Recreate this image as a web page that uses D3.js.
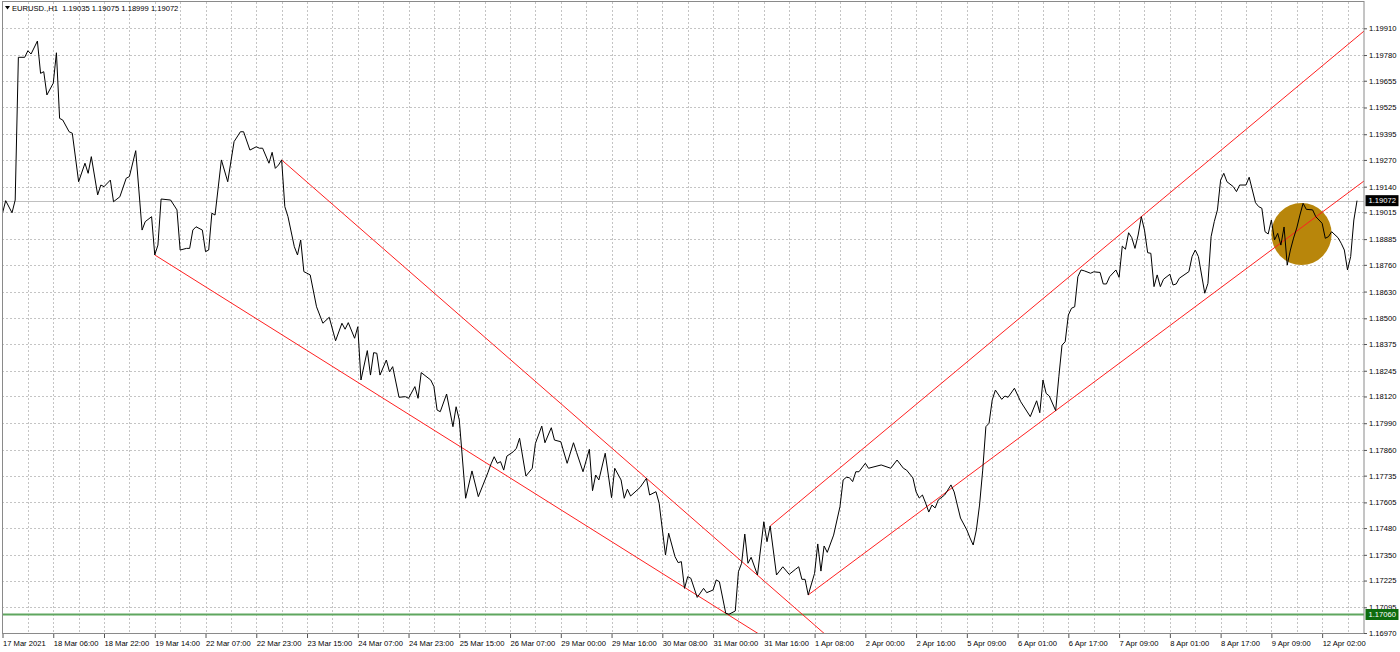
<!DOCTYPE html>
<html>
<head>
<meta charset="utf-8">
<script src="https://cdn.jsdelivr.net/npm/d3@7"></script>
<style>
  html, body { margin: 0; padding: 0; background: #fff; }
  svg { display: block; font-family: "Liberation Sans", Arial, sans-serif; }
</style>
</head>
<body>
<div id="chart"></div>
<script>
// hourly closes, bar index -> price
var barIdx = [0,1,3,4,5,7,8,9,11,12,13,14,16,17,18,19,21,22,24,26,27,28,30,31,32,34,35,37,39,40,42,44,45,47,48,49,50,53,55,56,58,59,60,61,63,64,65,66,67,69,71,73,75,76,78,80,81,82,84,85,86,87,88,89,90,92,93,94,95,97,99,101,103,105,107,108,109,111,112,113,115,116,117,118,119,121,122,123,125,127,128,130,131,132,135,136,137,138,140,142,143,144,146,148,150,153,154,155,156,157,158,159,161,162,163,165,167,168,170,171,173,174,176,178,180,181,183,185,186,187,188,190,192,193,195,196,197,198,201,203,204,206,207,209,210,212,213,214,215,216,217,219,221,222,224,225,226,228,229,231,232,233,234,235,236,238,240,241,242,244,246,248,250,251,252,253,254,256,257,258,259,260,262,264,265,266,267,268,269,270,272,273,277,280,282,284,285,287,288,289,290,291,292,293,294,295,297,298,299,300,301,302,304,305,306,307,308,309,310,311,312,313,315,316,317,319,321,324,326,327,328,329,330,332,333,334,335,336,337,338,339,340,341,343,344,346,347,348,349,351,352,353,354,355,356,357,358,359,360,361,362,363,364,365,366,368,369,370,371,374,375,376,377,379,380,381,382,383,384,385,386,388,389,390,392,393,395,396,397,398,399,400,401,402,403,404,405,406,407,408,409,410,411,413,414,415,416,417,418,419,421,422,423,424,425,426,427];
var closes = [1.19011,1.19072,1.19013,1.19075,1.19769,1.19769,1.19801,1.19785,1.19848,1.19691,1.19699,1.19586,1.19643,1.19791,1.19472,1.19464,1.19407,1.19400,1.19164,1.19254,1.19205,1.19286,1.19100,1.19148,1.19140,1.19172,1.19067,1.19091,1.19181,1.19189,1.19315,1.18929,1.18970,1.18994,1.18808,1.18856,1.19080,1.19075,1.19027,1.18832,1.18840,1.18840,1.18929,1.18945,1.18929,1.18824,1.18832,1.19011,1.19002,1.19270,1.19164,1.19359,1.19407,1.19407,1.19318,1.19334,1.19327,1.19327,1.19254,1.19307,1.19229,1.19245,1.19270,1.19043,1.18994,1.18848,1.18808,1.18881,1.18727,1.18711,1.18556,1.18476,1.18505,1.18391,1.18476,1.18447,1.18479,1.18403,1.18459,1.18200,1.18343,1.18224,1.18333,1.18330,1.18224,1.18297,1.18240,1.18265,1.18116,1.18119,1.18111,1.18168,1.18111,1.18236,1.18200,1.18168,1.18054,1.18046,1.18132,1.17973,1.18070,1.18006,1.17625,1.17758,1.17633,1.17749,1.17792,1.17827,1.17795,1.17803,1.17762,1.17830,1.17851,1.17868,1.17917,1.17733,1.17771,1.17892,1.17976,1.17895,1.17968,1.17908,1.17900,1.17795,1.17895,1.17847,1.17754,1.17863,1.17662,1.17738,1.17714,1.17844,1.17628,1.17771,1.17714,1.17625,1.17669,1.17636,1.17678,1.17722,1.17641,1.17657,1.17601,1.17349,1.17455,1.17341,1.17312,1.17317,1.17187,1.17244,1.17236,1.17143,1.17187,1.17166,1.17179,1.17228,1.17219,1.17066,1.17061,1.17077,1.17268,1.17309,1.17451,1.17309,1.17338,1.17252,1.17511,1.17414,1.17490,1.17252,1.17292,1.17255,1.17280,1.17292,1.17231,1.17231,1.17155,1.17260,1.17403,1.17271,1.17393,1.17362,1.17446,1.17584,1.17714,1.17727,1.17725,1.17706,1.17754,1.17754,1.17795,1.17771,1.17787,1.17771,1.17811,1.17771,1.17762,1.17724,1.17656,1.17626,1.17641,1.17602,1.17558,1.17592,1.17578,1.17617,1.17641,1.17665,1.17690,1.17656,1.17592,1.17529,1.17471,1.17432,1.17398,1.17471,1.17592,1.17762,1.17973,1.17990,1.18103,1.18151,1.18106,1.18122,1.18116,1.18160,1.18094,1.18022,1.18099,1.18041,1.18200,1.18135,1.18122,1.18051,1.18216,1.18370,1.18386,1.18516,1.18549,1.18556,1.18702,1.18735,1.18731,1.18719,1.18726,1.18723,1.18667,1.18667,1.18702,1.18735,1.18699,1.18851,1.18836,1.18916,1.18892,1.18840,1.18905,1.18994,1.18929,1.18819,1.18816,1.18654,1.18711,1.18654,1.18690,1.18714,1.18662,1.18667,1.18695,1.18727,1.18800,1.18832,1.18800,1.18622,1.18670,1.18897,1.18970,1.19027,1.19172,1.19205,1.19164,1.19140,1.19116,1.19148,1.19148,1.19186,1.19062,1.19043,1.19035,1.18921,1.18910,1.18978,1.18881,1.18913,1.18856,1.18944,1.18759,1.18832,1.18890,1.18939,1.19002,1.19059,1.19030,1.19027,1.18994,1.18978,1.18962,1.18889,1.18897,1.18921,1.18892,1.18865,1.18832,1.18735,1.18800,1.18978,1.19072];

var timeLabels = ["17 Mar 2021","18 Mar 06:00","18 Mar 22:00","19 Mar 14:00","22 Mar 07:00","22 Mar 23:00","23 Mar 15:00","24 Mar 07:00","24 Mar 23:00","25 Mar 15:00","26 Mar 07:00","29 Mar 00:00","29 Mar 16:00","30 Mar 08:00","31 Mar 00:00","31 Mar 16:00","1 Apr 08:00","2 Apr 00:00","2 Apr 16:00","5 Apr 09:00","6 Apr 01:00","6 Apr 17:00","7 Apr 09:00","8 Apr 01:00","8 Apr 17:00","9 Apr 09:00","12 Apr 02:00"];
var labelStep = 16;   // bars between time labels
var gridStep = 8;     // bars between vertical grid lines
var priceTicks = [1.19910,1.19780,1.19655,1.19525,1.19395,1.19270,1.19140,1.19015,1.18885,1.18760,1.18630,1.18500,1.18375,1.18245,1.18120,1.17990,1.17860,1.17735,1.17605,1.17480,1.17350,1.17225,1.17095,1.16970];

// trend lines: two anchor points [bar, price], drawn as rays to the right
var trendLines = [
  [[48, 1.18808], [228, 1.17066]],
  [[88, 1.19270], [203, 1.17722]],
  [[242, 1.17490], [359, 1.18994]],
  [[254, 1.17155], [332, 1.18051]]
];
var ellipseBars = [400, 419];
var ellipsePrices = [1.18759, 1.19061];
var bidPrice = 1.19072;
var levelPrice = 1.17060;
var title = "EURUSD.,H1  1.19035 1.19075 1.18999 1.19072";

var W = 1400, H = 652;
var plot = {left: 2, top: 2, right: 1364, bottom: 634};
var lastBar = 429.2;

var x = d3.scaleLinear().domain([0, lastBar]).range([2.5, plot.right]);
var y = d3.scaleLinear().domain([1.16970, 1.19910]).range([633, 28.3]);

var svg = d3.select("#chart").append("svg")
  .attr("width", W).attr("height", H);

svg.append("clipPath").attr("id", "clip")
  .append("rect")
  .attr("x", plot.left).attr("y", plot.top)
  .attr("width", plot.right - plot.left).attr("height", plot.bottom - plot.top);

// grid
var grid = svg.append("g").attr("clip-path", "url(#clip)");
var vBars = d3.range(gridStep, lastBar, gridStep);
grid.selectAll(".vg").data(vBars).enter().append("line")
  .attr("x1", function(d){ return Math.round(x(d)) + 0.5; })
  .attr("x2", function(d){ return Math.round(x(d)) + 0.5; })
  .attr("y1", plot.top).attr("y2", plot.bottom)
  .attr("stroke", "#c4c4c4").attr("stroke-dasharray", "2,2");
grid.selectAll(".hg").data(priceTicks).enter().append("line")
  .attr("x1", plot.left).attr("x2", plot.right)
  .attr("y1", function(d){ return Math.round(y(d)) + 0.5; })
  .attr("y2", function(d){ return Math.round(y(d)) + 0.5; })
  .attr("stroke", "#c4c4c4").attr("stroke-dasharray", "2,2");

var layer = svg.append("g").attr("clip-path", "url(#clip)");

// ellipse object (drawn under the lines)
layer.append("ellipse")
  .attr("cx", (x(ellipseBars[0]) + x(ellipseBars[1])) / 2)
  .attr("cy", (y(ellipsePrices[0]) + y(ellipsePrices[1])) / 2)
  .attr("rx", (x(ellipseBars[1]) - x(ellipseBars[0])) / 2)
  .attr("ry", (y(ellipsePrices[0]) - y(ellipsePrices[1])) / 2)
  .attr("fill", "#b8860b");

// bid line
layer.append("line")
  .attr("x1", plot.left).attr("x2", plot.right)
  .attr("y1", Math.round(y(bidPrice)) + 0.5).attr("y2", Math.round(y(bidPrice)) + 0.5)
  .attr("stroke", "#c0c0c0");

// horizontal level
layer.append("line")
  .attr("x1", plot.left).attr("x2", plot.right)
  .attr("y1", y(levelPrice)).attr("y2", y(levelPrice))
  .attr("stroke", "#5fa65f").attr("stroke-width", 1.8);

// trend rays
trendLines.forEach(function(t){
  var s = (t[1][1] - t[0][1]) / (t[1][0] - t[0][0]);
  var endBar = lastBar + 40;
  layer.append("line")
    .attr("x1", x(t[0][0])).attr("y1", y(t[0][1]))
    .attr("x2", x(endBar)).attr("y2", y(t[0][1] + s * (endBar - t[0][0])))
    .attr("stroke", "#ff2020").attr("stroke-width", 1);
});

// price line
var line = d3.line()
  .x(function(d, i){ return x(barIdx[i]); })
  .y(function(d){ return y(d); });
layer.append("path")
  .datum(closes)
  .attr("d", line)
  .attr("fill", "none")
  .attr("stroke", "#000")
  .attr("stroke-width", 1);

// frame
svg.append("rect")
  .attr("x", plot.left + 0.5).attr("y", plot.top - 0.5)
  .attr("width", plot.right - plot.left - 0.5).attr("height", plot.bottom - plot.top)
  .attr("fill", "none").attr("stroke", "#8a8a8a").attr("stroke-width", 1);

// right price axis
var yAxis = svg.append("g")
  .attr("transform", "translate(" + plot.right + ",0)")
  .call(d3.axisRight(y).tickValues(priceTicks).tickSize(3).tickPadding(2)
    .tickFormat(d3.format(".5f")));
yAxis.select(".domain").remove();
yAxis.selectAll("line").attr("stroke", "#555");
yAxis.selectAll("text").attr("font-size", "7.6px").attr("fill", "#000")
  .attr("font-family", "Liberation Sans, Arial, sans-serif");

// bottom time axis
var tIdx = timeLabels.map(function(d, i){ return i * labelStep; });
var xAxis = svg.append("g")
  .attr("transform", "translate(0," + plot.bottom + ")")
  .call(d3.axisBottom(x).tickValues(tIdx).tickSize(4).tickPadding(3)
    .tickFormat(function(d, i){ return timeLabels[i]; }));
xAxis.select(".domain").remove();
xAxis.selectAll("line").attr("stroke", "#555");
xAxis.selectAll("text").attr("font-size", "7.6px").attr("fill", "#000")
  .attr("text-anchor", "start")
  .attr("font-family", "Liberation Sans, Arial, sans-serif");

// price tags on the axis
function tag(price, bg){
  var yy = y(price);
  svg.append("rect")
    .attr("x", plot.right + 1.5).attr("y", yy - 5.5)
    .attr("width", 33).attr("height", 11).attr("fill", bg);
  svg.append("text")
    .attr("x", plot.right + 4.5).attr("y", yy + 2.8)
    .attr("font-size", "7.6px").attr("fill", "#fff")
    .text(d3.format(".5f")(price));
}
tag(bidPrice, "#000");
tag(levelPrice, "#0d6b0d");

// title
svg.append("path").attr("d", "M5,6 L10,6 L7.5,9.5 Z").attr("fill", "#000");
svg.append("text")
  .attr("x", 12).attr("y", 10.5)
  .attr("font-size", "7.6px").attr("fill", "#000")
  .attr("xml:space", "preserve")
  .style("white-space", "pre")
  .text(title);
</script>
</body>
</html>
